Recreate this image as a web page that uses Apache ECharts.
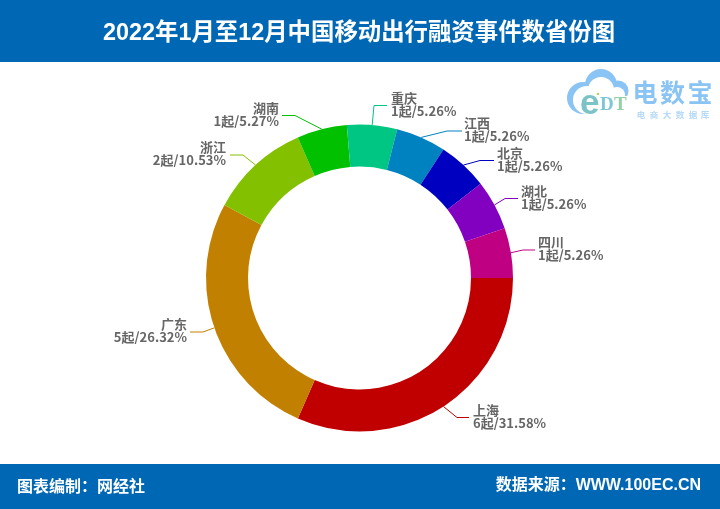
<!DOCTYPE html>
<html><head><meta charset="utf-8">
<style>html,body{margin:0;padding:0;background:#fff}#c{width:720px;height:509px}</style>
<script src="https://cdn.jsdelivr.net/npm/echarts@6/dist/echarts.min.js"></script></head>
<body><div id="c"></div>
<script>
const provinces=['上海','广东','浙江','湖南','重庆','江西','北京','湖北','四川'];
const counts=[6,5,2,1,1,1,1,1,1];
const shares=['31.58%','26.32%','10.53%','5.27%','5.26%','5.26%','5.26%','5.26%','5.26%'];
const colors=['#c00000','#c28000','#82c000','#00c000','#00c683','#0082c0','#0000c0','#8200c0','#c00082'];
const titleText='2022年1月至12月中国移动出行融资事件数省份图';
const footLeft='图表编制：网经社';
const footRight='数据来源：WWW.100EC.CN';
// label placement (text anchor x, leader elbow x, leader end x, leader y)
const labelAnchorX=[473,187,226,279,391,464,497,521,538];
const elbowX=[457,203,243,295,374,447,480,505,523];
const leaderEndX=[469,190,230,282,387,462,494,518,535];
const leaderY=[417.5,332,155,115.5,105.5,131,160.5,198.5,250];
const labelAlign=['left','right','right','right','left','left','left','left','left'];
const cjk='"Noto Sans CJK SC","Liberation Sans",sans-serif';
const latinFirst='"Liberation Sans","Noto Sans CJK SC",sans-serif';
const logoBlue='#8ac4f4';
const logoChars=['电','数','宝'];
const logoCharX=[645,672.5,700];
const subChars=['电','商','大','数','据','库'];
const subCharX=[641,654,667,680,693,705];
const chart=echarts.init(document.getElementById('c'));
chart.setOption({
  backgroundColor:'#fff',
  animation:false,
  title:[
    {text:titleText,left:98,top:17,textStyle:{color:'#fff',fontSize:23.4,fontWeight:'bold',fontFamily:latinFirst}},
    {text:footLeft,left:12,top:473,textStyle:{color:'#fff',fontSize:16,fontWeight:'bold',fontFamily:cjk}},
    {text:footRight,right:14,top:473,textStyle:{color:'#fff',fontSize:16,fontWeight:'bold',fontFamily:latinFirst}}
  ],
  graphic:[
    {type:'rect',z:-1,shape:{x:0,y:0,width:720,height:62},style:{fill:'#0067b5'}},
    {type:'rect',z:-1,shape:{x:0,y:464,width:720,height:45},style:{fill:'#0067b5'}},
    {type:'circle',shape:{cx:583,cy:98,r:16},style:{fill:logoBlue}},
    {type:'circle',shape:{cx:601,cy:85,r:16},style:{fill:logoBlue}},
    {type:'circle',shape:{cx:618,cy:91,r:10.5},style:{fill:logoBlue}},
    {type:'circle',shape:{cx:587,cy:100,r:14},style:{fill:'#fff'}},
    {type:'circle',shape:{cx:601,cy:90,r:13},style:{fill:'#fff'}},
    {type:'circle',shape:{cx:617,cy:95,r:8},style:{fill:'#fff'}},
    {type:'rect',shape:{x:590,y:96,width:40,height:24},style:{fill:'#fff'}},
    {type:'text',style:{x:580,y:87,text:'e',fill:'#7cc3c8',font:'bold 35px "Liberation Sans"'}},
    {type:'text',style:{x:600,y:96,text:'D',fill:'#7dc6d8',font:'bold 19px "Liberation Serif"'}},
    {type:'text',style:{x:614,y:96,text:'T',fill:'#93d0a6',font:'bold 19px "Liberation Serif"'}},
    {type:'circle',shape:{cx:598,cy:94,r:1.3},style:{fill:'#a8d46f'}},
    ...logoChars.map((ch,i)=>({type:'text',style:{x:logoCharX[i],y:92,text:ch,fill:logoBlue,align:'center',verticalAlign:'middle',font:'bold 25px "Noto Sans CJK SC"'}})),
    ...subChars.map((ch,i)=>({type:'text',style:{x:subCharX[i],y:114.5,text:ch,fill:'#b5d9f6',align:'center',verticalAlign:'middle',font:'bold 8.5px "Noto Sans CJK SC"'}}))
  ],
  series:[{
    type:'pie',
    center:[359.5,278],
    radius:[111.5,153.5],
    startAngle:0,
    clockwise:true,
    avoidLabelOverlap:false,
    data:provinces.map((p,i)=>({name:p,value:counts[i],itemStyle:{color:colors[i]},labelLine:{lineStyle:{color:colors[i]}}})),
    label:{
      formatter:p=>p.name+'\n'+counts[p.dataIndex]+'起/'+shares[p.dataIndex],
      color:'#666',fontSize:13,fontWeight:'bold',lineHeight:13,fontFamily:cjk,position:'outside'
    },
    labelLine:{show:true,length:14,length2:14,lineStyle:{width:1}},
    labelLayout:p=>{
      const i=p.dataIndex;
      const start=p.labelLinePoints?p.labelLinePoints[0]:[elbowX[i],leaderY[i]];
      return {
        hideOverlap:false,
        x:labelAnchorX[i],y:leaderY[i]-1,align:labelAlign[i],verticalAlign:'middle',
        labelLinePoints:[start,[elbowX[i],leaderY[i]],[leaderEndX[i],leaderY[i]]]
      };
    }
  }]
});
</script></body></html>
